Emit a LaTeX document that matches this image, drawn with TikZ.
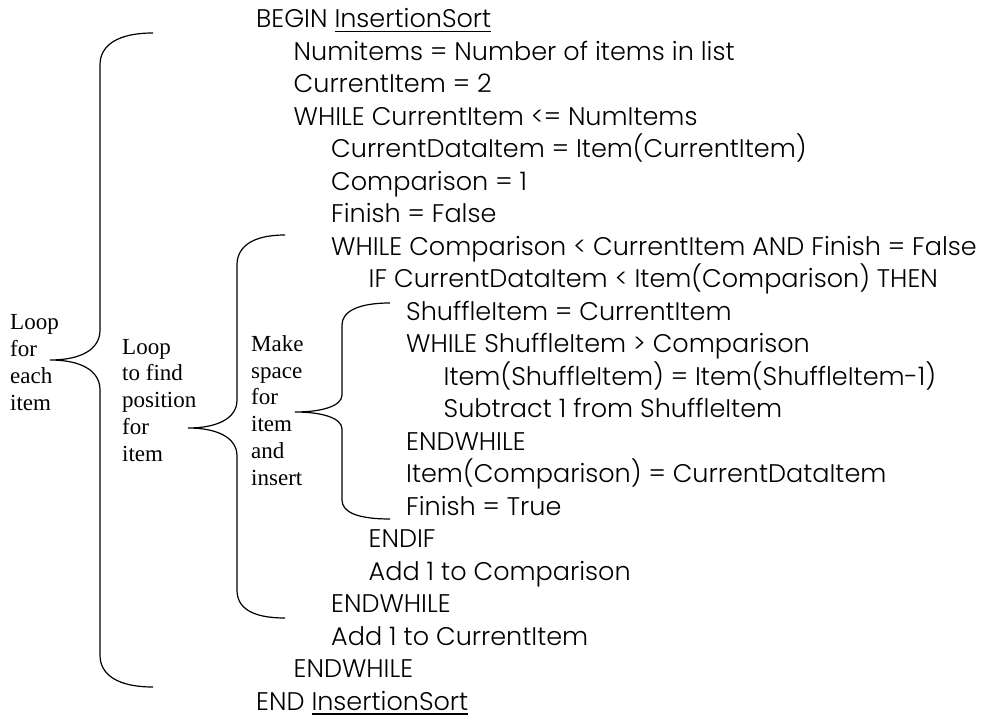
\documentclass[tikz,border=0pt]{standalone}
\usepackage{fontspec}
\newfontfamily\codefont{Poppins}[UprightFont={* Light}]
\newfontfamily\notefont{Liberation Serif}
% underline drawn as a rule of its own thickness
\newcommand\boldul[1]{\setbox0\hbox{#1}\rlap{\rule[-4.5pt]{\wd0}{1.8pt}}\box0}
\begin{document}
\begin{tikzpicture}[x=1pt,y=-1pt,
  code/.style={anchor=base west,inner sep=0pt,
    font=\codefont\fontsize{25.5}{25.5}\selectfont},
  note/.style={anchor=base west,inner sep=0pt,align=left,
    font=\notefont\fontsize{23}{26.7}\selectfont},
  brace/.style={draw=black,line width=1.2pt}]
\useasboundingbox (0,0) rectangle (999,722);

% pseudocode, one line every 32.48 units, indent step 37.5
\foreach \lvl/\txt [count=\i from 0] in {
  0/{BEGIN \boldul{InsertionSort}},
  1/{Numitems = Number of items in list},
  1/{CurrentItem = 2},
  1/{WHILE CurrentItem <= NumItems},
  2/{CurrentDataItem = Item(CurrentItem)},
  2/{Comparison = 1},
  2/{Finish = False},
  2/{WHILE Comparison < CurrentItem AND Finish = False},
  3/{IF CurrentDataItem < Item(Comparison) THEN},
  4/{ShuffleItem = CurrentItem},
  4/{WHILE ShuffleItem > Comparison},
  5/{Item(ShuffleItem) = Item(ShuffleItem-1)},
  5/{Subtract 1 from ShuffleItem},
  4/{ENDWHILE},
  4/{Item(Comparison) = CurrentDataItem},
  4/{Finish = True},
  3/{ENDIF},
  3/{Add 1 to Comparison},
  2/{ENDWHILE},
  2/{Add 1 to CurrentItem},
  1/{ENDWHILE},
  0/{END \boldul{InsertionSort}}}
  \node[code] (line\i) at ({256+37.5*\lvl},{28+32.48*\i}) {\txt};

% side notes (anchored on the baseline of their last line)
\node[note] (outer) at (10,410) {Loop\\for\\each\\item};
\node[note] (middle) at (122,461) {Loop\\to find\\position\\for\\item};
\node[note] (inner) at (251,485) {Make\\space\\for\\item\\and\\insert};

% braces
\draw[brace] (153,33) .. controls (118,33) and (100,45) .. (100,65)
  -- (100,330) .. controls (100,350) and (80,360) .. (50,360)
  .. controls (80,360) and (100,370) .. (100,390)
  -- (100,655) .. controls (100,675) and (118,687) .. (153,687);
\draw[brace] (285,235) .. controls (252,235) and (237,247) .. (237,265)
  -- (237,400) .. controls (237,418) and (218,428) .. (188,428)
  .. controls (218,428) and (237,438) .. (237,456)
  -- (237,590) .. controls (237,608) and (252,618) .. (285,618);
\draw[brace] (390,303) .. controls (357,303) and (342,312) .. (342,325)
  -- (342,395) .. controls (342,406) and (322,412) .. (295,412)
  .. controls (322,412) and (342,418) .. (342,429)
  -- (342,500) .. controls (342,512) and (357,519) .. (390,519);
\end{tikzpicture}
\end{document}
